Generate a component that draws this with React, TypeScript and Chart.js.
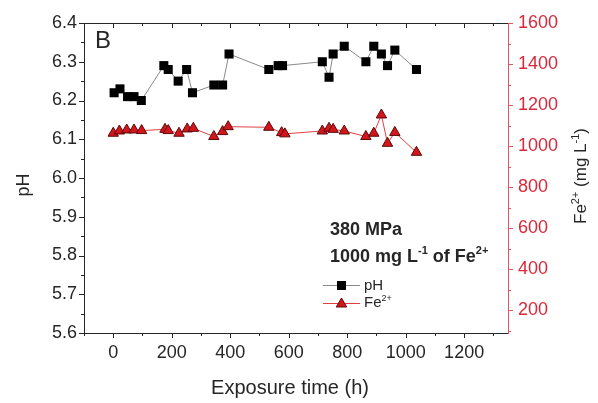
import React, { useEffect, useRef } from 'react';
import { Chart, registerables } from 'chart.js';
Chart.register(...registerables);

// ---- data ----
const phHours = [3, 23, 49, 71, 96, 173, 188, 222, 251, 271, 344, 374, 396, 532, 564, 579, 715, 738, 752, 790, 864, 891, 917, 938, 963, 1037];
const phValues = [6.22, 6.23, 6.21, 6.21, 6.20, 6.29, 6.28, 6.25, 6.28, 6.22, 6.24, 6.24, 6.32, 6.28, 6.29, 6.29, 6.30, 6.26, 6.32, 6.34, 6.30, 6.34, 6.32, 6.29, 6.33, 6.28];
const feHours = [0, 21, 46, 71, 97, 177, 188, 225, 253, 274, 344, 374, 393, 532, 576, 587, 715, 738, 752, 790, 864, 891, 917, 938, 963, 1037];
const feValues = [1063, 1074, 1079, 1079, 1076, 1082, 1076, 1063, 1084, 1087, 1047, 1071, 1095, 1092, 1066, 1060, 1074, 1087, 1082, 1074, 1047, 1063, 1152, 1014, 1067, 970];

const xTicks = [0, 200, 400, 600, 800, 1000, 1200];
const xMinorTicks = [-100, 100, 300, 500, 700, 900, 1100, 1300];
const phTicks = [5.6, 5.7, 5.8, 5.9, 6.0, 6.1, 6.2, 6.3, 6.4];
const phMinorTicks = [5.65, 5.75, 5.85, 5.95, 6.05, 6.15, 6.25, 6.35];
const feTicks = [200, 400, 600, 800, 1000, 1200, 1400, 1600];
const feMinorTicks = [100, 300, 500, 700, 900, 1100, 1300, 1500];

const FONT = '"Liberation Sans", Arial, Helvetica, sans-serif';
const BLACK = '#262626';
const RED = '#d9283a';
const RED_AXIS = '#df5563';

type Part = { t: string; sup?: boolean };

function drawRich(ctx: CanvasRenderingContext2D, parts: Part[], x: number, y: number, size: number, bold: boolean, color: string, align: 'left' | 'center') {
  const fontFor = (sup?: boolean) => `${bold ? 'bold ' : ''}${sup ? Math.round(size * 0.62) : size}px ${FONT}`;
  let total = 0;
  for (const p of parts) {
    ctx.font = fontFor(p.sup);
    total += ctx.measureText(p.t).width;
  }
  let cx = align === 'center' ? x - total / 2 : x;
  ctx.fillStyle = color;
  ctx.textBaseline = 'alphabetic';
  ctx.textAlign = 'left';
  for (const p of parts) {
    ctx.font = fontFor(p.sup);
    ctx.fillText(p.t, cx, p.sup ? y - size * 0.42 : y);
    cx += ctx.measureText(p.t).width;
  }
}

const decorPlugin = {
  id: 'decor',
  afterDraw(chart: any) {
    const ctx: CanvasRenderingContext2D = chart.ctx;
    const { left, right, top, bottom } = chart.chartArea;
    const xs = chart.scales.x;
    const ys = chart.scales.y;
    const y1 = chart.scales.y1;
    ctx.save();
    ctx.lineWidth = 1;
    // frame
    ctx.strokeStyle = BLACK;
    ctx.beginPath();
    ctx.moveTo(left, top + 0.5); ctx.lineTo(right, top + 0.5);
    ctx.moveTo(left + 0.5, top); ctx.lineTo(left + 0.5, bottom);
    ctx.moveTo(left, bottom + 0.5); ctx.lineTo(right, bottom + 0.5);
    ctx.stroke();
    // x ticks
    ctx.beginPath();
    for (const v of xTicks) {
      const px = Math.round(xs.getPixelForValue(v)) + 0.5;
      ctx.moveTo(px, bottom); ctx.lineTo(px, bottom + 5);
      ctx.moveTo(px, top); ctx.lineTo(px, top + 5);
    }
    for (const v of xMinorTicks) {
      const px = Math.round(xs.getPixelForValue(v)) + 0.5;
      ctx.moveTo(px, bottom); ctx.lineTo(px, bottom + 3);
      ctx.moveTo(px, top); ctx.lineTo(px, top + 3);
    }
    // left ticks
    for (const v of phTicks) {
      const py = Math.round(ys.getPixelForValue(v)) + 0.5;
      ctx.moveTo(left, py); ctx.lineTo(left - 5, py);
    }
    for (const v of phMinorTicks) {
      const py = Math.round(ys.getPixelForValue(v)) + 0.5;
      ctx.moveTo(left, py); ctx.lineTo(left - 3, py);
    }
    ctx.stroke();
    // right axis
    ctx.strokeStyle = RED_AXIS;
    ctx.beginPath();
    ctx.moveTo(right + 0.5, top); ctx.lineTo(right + 0.5, bottom + 1);
    for (const v of feTicks) {
      const py = Math.round(y1.getPixelForValue(v)) + 0.5;
      ctx.moveTo(right, py); ctx.lineTo(right + 5, py);
    }
    for (const v of feMinorTicks) {
      const py = Math.round(y1.getPixelForValue(v)) + 0.5;
      ctx.moveTo(right, py); ctx.lineTo(right + 3, py);
    }
    ctx.stroke();

    // panel letter
    drawRich(ctx, [{ t: 'B' }], 95, 48, 24, false, BLACK, 'left');

    // axis titles
    drawRich(ctx, [{ t: 'Exposure time (h)' }], 290, 394, 20, false, BLACK, 'center');
    ctx.save();
    ctx.translate(23, 185);
    ctx.rotate(-Math.PI / 2);
    drawRich(ctx, [{ t: 'pH' }], 0, 6, 18, false, BLACK, 'center');
    ctx.restore();
    ctx.save();
    ctx.translate(580, 176);
    ctx.rotate(-Math.PI / 2);
    drawRich(ctx, [{ t: 'Fe' }, { t: '2+', sup: true }, { t: ' (mg L' }, { t: '-1', sup: true }, { t: ')' }], 0, 6, 17, false, BLACK, 'center');
    ctx.restore();

    // annotation
    drawRich(ctx, [{ t: '380 MPa' }], 330, 235, 18, true, BLACK, 'left');
    drawRich(ctx, [{ t: '1000 mg L' }, { t: '-1', sup: true }, { t: ' of Fe' }, { t: '2+', sup: true }], 330, 262, 18, true, BLACK, 'left');

    // legend
    const lx0 = 323, lx1 = 360, mx = 341.5;
    ctx.lineWidth = 1;
    ctx.strokeStyle = '#8a8a8a';
    ctx.beginPath(); ctx.moveTo(lx0, 285.5); ctx.lineTo(lx1, 285.5); ctx.stroke();
    ctx.fillStyle = '#000';
    ctx.fillRect(mx - 4.5, 285.5 - 4.5, 9, 9);
    drawRich(ctx, [{ t: 'pH' }], 364, 290, 15, false, BLACK, 'left');

    ctx.strokeStyle = '#e04040';
    ctx.beginPath(); ctx.moveTo(lx0, 303.5); ctx.lineTo(lx1, 303.5); ctx.stroke();
    const r = 6, cy = 304;
    ctx.beginPath();
    ctx.moveTo(mx, cy - r);
    ctx.lineTo(mx + r * 0.866, cy + r / 2);
    ctx.lineTo(mx - r * 0.866, cy + r / 2);
    ctx.closePath();
    ctx.fillStyle = '#d3161c';
    ctx.fill();
    ctx.strokeStyle = '#5a0a0a';
    ctx.stroke();
    drawRich(ctx, [{ t: 'Fe' }, { t: '2+', sup: true }], 364, 307, 15, false, BLACK, 'left');
    ctx.restore();
  },
};

export default function App() {
  const ref = useRef<HTMLCanvasElement>(null);
  useEffect(() => {
    if (!ref.current) return;
    const phData = phHours.map((h, i) => ({ x: h, y: phValues[i] }));
    const feData = feHours.map((h, i) => ({ x: h, y: feValues[i] }));
    const chart = new Chart(ref.current, {
      type: 'scatter',
      data: {
        datasets: [
          {
            label: 'pH',
            data: phData,
            yAxisID: 'y',
            showLine: true,
            borderColor: '#8a8a8a',
            borderWidth: 1,
            backgroundColor: '#000000',
            pointStyle: 'rect',
            pointRadius: 6.4,
            pointBorderColor: '#000000',
            pointBorderWidth: 0,
            pointBackgroundColor: '#000000',
          },
          {
            label: 'Fe2+',
            data: feData,
            yAxisID: 'y1',
            showLine: true,
            borderColor: '#e04040',
            borderWidth: 1,
            pointStyle: 'triangle',
            pointRadius: 6,
            pointBackgroundColor: '#d3161c',
            pointBorderColor: '#5a0a0a',
            pointBorderWidth: 1,
          },
        ],
      },
      options: {
        animation: false,
        responsive: true,
        maintainAspectRatio: false,
        layout: { padding: { top: 23, left: 0, right: 0, bottom: 0 } },
        plugins: { legend: { display: false }, tooltip: { enabled: false } },
        scales: {
          x: {
            type: 'linear',
            position: 'bottom',
            min: -100,
            max: 1350,
            grid: { display: false, drawTicks: false },
            border: { display: false },
            ticks: {
              stepSize: 200,
              includeBounds: false,
              padding: 9,
              color: BLACK,
              font: { family: FONT, size: 18 },
              maxRotation: 0,
              autoSkip: false,
              callback: (v: any) => String(v),
            },
            afterBuildTicks: (s: any) => { s.ticks = xTicks.map((v) => ({ value: v })); },
            afterFit: (s: any) => { s.height = 70; },
          },
          y: {
            type: 'linear',
            position: 'left',
            min: 5.6,
            max: 6.4,
            grid: { display: false, drawTicks: false },
            border: { display: false },
            ticks: {
              padding: 7,
              color: BLACK,
              font: { family: FONT, size: 18 },
              callback: (v: any) => Number(v).toFixed(1),
            },
            afterBuildTicks: (s: any) => { s.ticks = phTicks.map((v) => ({ value: v })); },
            afterFit: (s: any) => { s.width = 84; },
          },
          y1: {
            type: 'linear',
            position: 'right',
            min: 90,
            max: 1600,
            grid: { display: false, drawTicks: false },
            border: { display: false },
            ticks: {
              padding: 10,
              color: RED,
              font: { family: FONT, size: 18 },
              callback: (v: any) => String(v),
            },
            afterBuildTicks: (s: any) => { s.ticks = feTicks.map((v) => ({ value: v })); },
            afterFit: (s: any) => { s.width = 90; },
          },
        },
      },
      plugins: [decorPlugin],
    } as any);
    return () => chart.destroy();
  }, []);
  return (
    <div style={{ position: 'fixed', left: 0, top: 0, width: 598, height: 403, background: '#ffffff' }}>
      <canvas ref={ref} />
    </div>
  );
}
